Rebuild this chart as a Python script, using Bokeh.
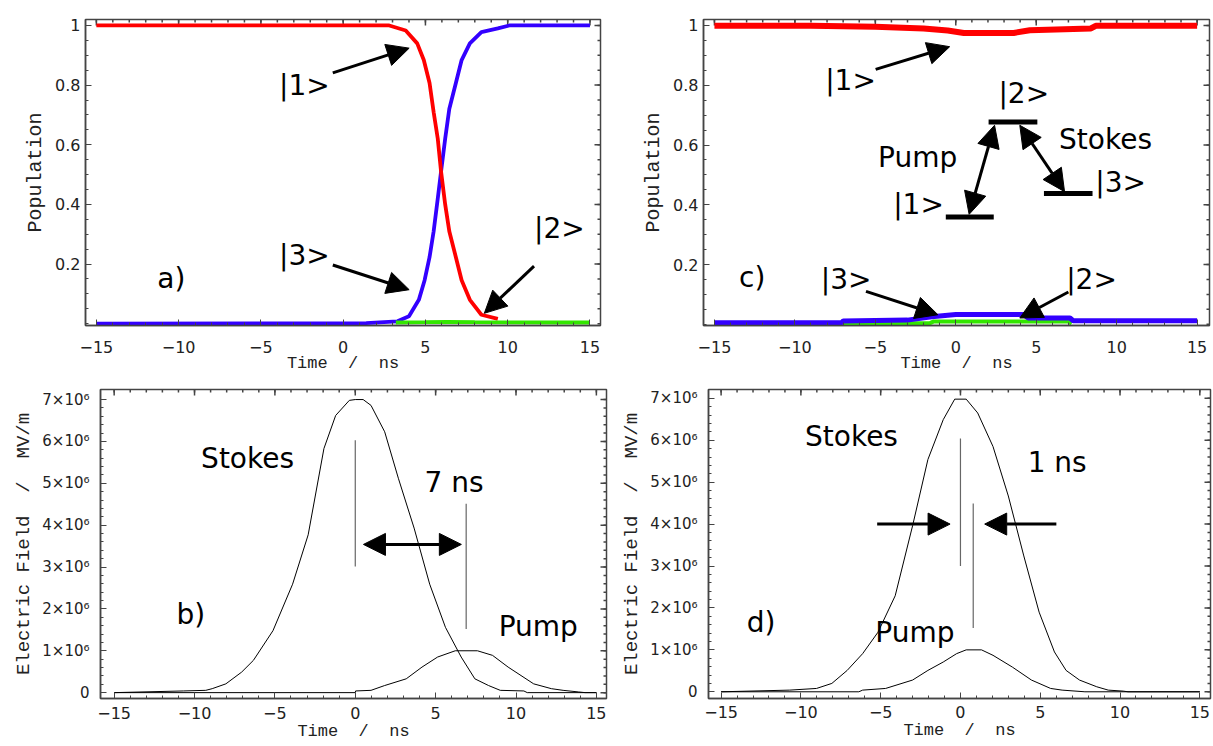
import math
from bokeh.plotting import figure
from bokeh.models import FixedTicker, Range1d, Arrow, NormalHead, ColumnDataSource
from bokeh.layouts import column, row
from bokeh.embed import file_html
from bokeh.resources import INLINE
from bokeh.core.properties import value

# ---------------- data ----------------
# panel a) populations, 7 ns delay
t_a1 = [-15, 2.8, 3.8, 4.5, 4.9, 5.25, 5.5, 5.75, 5.95, 6.2, 6.45, 6.85, 7.2, 7.7, 8.4, 9.4]
p_a1 = [1.0, 1.0, 0.983, 0.94, 0.884, 0.807, 0.709, 0.62, 0.51, 0.40, 0.31, 0.223, 0.146, 0.08, 0.03, 0.016]
t_a3 = [-15, 1.4, 3.3, 4.0, 4.6, 4.95, 5.25, 5.5, 5.75, 5.95, 6.2, 6.45, 6.85, 7.2, 7.7, 8.4, 9.4, 10.1, 15]
p_a3 = [0.0, 0.002, 0.008, 0.025, 0.08, 0.146, 0.223, 0.31, 0.42, 0.51, 0.62, 0.72, 0.807, 0.884, 0.94, 0.978, 0.99, 1.0, 1.0]
t_a2 = [3.2, 5.0, 6.3, 8.0, 15]
p_a2 = [0.004, 0.005, 0.006, 0.005, 0.004]

# panel c) populations, 1 ns delay
t_c1 = [-15, -9, -5, -2, -0.5, 0.5, 3.6, 4.6, 8.4, 8.7, 15]
p_c1 = [0.999, 0.999, 0.996, 0.99, 0.983, 0.975, 0.975, 0.984, 0.99, 0.999, 0.999]
t_c3 = [-15, -7.1, -7.0, -3, -1.5, 0, 4.2, 4.5, 7.1, 7.3, 15]
p_c3 = [0.005, 0.005, 0.011, 0.014, 0.025, 0.033, 0.033, 0.021, 0.021, 0.012, 0.012]
t_c2 = [-7, -1.6, -1.4, 7.0, 7.2]
p_c2 = [0.003, 0.004, 0.009, 0.009, 0.002]

# panel b) fields, 7 ns delay (units of 1e6 MV/m)
t_bs = [-15, -10.7, -9.3, -8.9, -8.05, -7.07, -6.34, -5.12, -3.9, -2.93, -1.95, -1.22, -0.37, 0, 0.49, 0.98,
        1.83, 2.68, 3.66, 4.63, 5.61, 6.59, 7.44, 8.29, 9.02, 10.49, 10.7, 15]
e_bs = [0, 0.04, 0.055, 0.095, 0.21, 0.49, 0.77, 1.48, 2.59, 3.77, 5.83, 6.62, 6.98, 7.0, 7.0, 6.86,
        6.23, 5.12, 3.93, 2.59, 1.56, 0.85, 0.33, 0.17, 0.055, 0.04, 0, 0]
t_bp = [-15, 0, 0.02, 0.98, 1.83, 3.17, 4.15, 5.12, 6.22, 7.6, 8.54, 9.51, 11.1, 12.2, 12.93, 13.9, 14.3, 15]
e_bp = [0, 0, 0.04, 0.055, 0.17, 0.33, 0.61, 0.85, 1.0, 1.0, 0.89, 0.61, 0.21, 0.095, 0.055, 0.016, 0, 0]

# panel d) fields, 1 ns delay
t_ds = [-15, -10.7, -9.02, -8.06, -7.1, -6.13, -5.17, -4.09, -3.0, -2.04, -1.08, -0.36, 0.36, 1.08, 2.04,
        3.0, 3.97, 4.93, 5.89, 6.62, 7.46, 8.54, 9.26, 10.2, 10.5, 15]
e_ds = [0, 0.04, 0.08, 0.2, 0.51, 0.91, 1.42, 2.29, 3.96, 5.54, 6.49, 6.98, 6.98, 6.65, 5.85,
        4.67, 3.24, 1.9, 0.95, 0.51, 0.28, 0.12, 0.04, 0.016, 0, 0]
t_dp = [-15, -6.37, -6.13, -4.69, -3.0, -2.04, -1.08, -0.24, 0.36, 1.32, 2.04, 3.25, 4.45, 5.65, 6.37, 7.8, 15]
e_dp = [0, 0, 0.04, 0.08, 0.28, 0.51, 0.71, 0.91, 1.0, 1.0, 0.87, 0.59, 0.28, 0.08, 0.04, 0, 0]

x_ticks = [-15, -10, -5, 0, 5, 10, 15]
x_tick_labels = ["\u221215", "\u221210", "\u22125", "0", "5", "10", "15"]
pop_ticks = [0.2, 0.4, 0.6, 0.8, 1.0]
pop_tick_labels = ["0.2", "0.4", "0.6", "0.8", "1"]
field_ticks = [0, 1e6, 2e6, 3e6, 4e6, 5e6, 6e6, 7e6]
field_tick_labels = ["0", "1\u00d710\u2076", "2\u00d710\u2076", "3\u00d710\u2076", "4\u00d710\u2076",
                     "5\u00d710\u2076", "6\u00d710\u2076", "7\u00d710\u2076"]
x_minor = list(range(-15, 16))
pop_minor = [round(0.05 * i, 2) for i in range(0, 21)]
field_minor = [0.2e6 * i for i in range(0, 36)]

X_LABEL = "Time\u00a0\u00a0/\u00a0\u00a0ns"
POP_LABEL = "Population"
FIELD_LABEL = "Electric\u00a0Field\u00a0\u00a0/\u00a0\u00a0MV/m"

RED = "#ff0000"
BLUE = "#3300ff"
GREEN = "#33e600"
FRAME = "#444444"
SANS = "DejaVu Sans"
MONO = "Liberation Mono"


def make_fig(bl, fw, br, bt, fh, bb, xr, yr):
    p = figure(width=bl + fw + br, height=bt + fh + bb, x_range=Range1d(*xr), y_range=Range1d(*yr),
               output_backend="svg", toolbar_location=None, title=None,
               min_border_left=bl, min_border_right=br, min_border_top=bt, min_border_bottom=bb)
    p.xgrid.visible = False
    p.ygrid.visible = False
    p.outline_line_color = FRAME
    p.outline_line_width = 1.5
    p.background_fill_color = "white"
    p.border_fill_color = "white"
    return p


def style_axes(p, xr, yr, yticks, ylabels, yminor, ylabel, ytick_size, ylab_size, xstand, xlstand, ystand, ylstand):
    p.xaxis.ticker = FixedTicker(ticks=x_ticks, minor_ticks=x_minor)
    p.yaxis.ticker = FixedTicker(ticks=yticks, minor_ticks=yminor)
    p.xaxis.major_label_overrides = dict(zip(x_ticks, x_tick_labels))
    p.yaxis.major_label_overrides = dict(zip(yticks, ylabels))
    p.xaxis.axis_label = X_LABEL
    p.yaxis.axis_label = ylabel
    for ax in (p.xaxis[0], p.yaxis[0]):
        ax.major_tick_in = 6
        ax.major_tick_out = 0
        ax.minor_tick_in = 3
        ax.minor_tick_out = 0
        ax.axis_line_color = FRAME
        ax.axis_line_width = 1.5
        ax.major_tick_line_color = FRAME
        ax.minor_tick_line_color = FRAME
        ax.major_label_text_font = SANS
        ax.major_label_text_color = "#222222"
        ax.axis_label_text_font = MONO
        ax.axis_label_text_font_style = "normal"
        ax.axis_label_text_color = "#222222"
    p.xaxis.major_label_text_font_size = "16px"
    p.yaxis.major_label_text_font_size = ytick_size
    p.xaxis.axis_label_text_font_size = "17px"
    p.yaxis.axis_label_text_font_size = ylab_size
    p.xaxis.major_label_standoff = xstand
    p.xaxis.axis_label_standoff = xlstand
    p.yaxis.major_label_standoff = ystand
    p.yaxis.axis_label_standoff = ylstand
    # inward ticks on the top and right edges of the frame (outer half is clipped by the frame)
    top, right = yr[1], xr[1]
    tick_style = dict(marker="dash", line_color=FRAME, line_width=1.5)
    p.scatter(x=x_ticks, y=[top] * len(x_ticks), size=12, angle=math.pi / 2, **tick_style)
    p.scatter(x=x_minor, y=[top] * len(x_minor), size=6, angle=math.pi / 2, **tick_style)
    p.scatter(x=[right] * len(yticks), y=yticks, size=12, **tick_style)
    p.scatter(x=[right] * len(yminor), y=yminor, size=6, **tick_style)


def add_text(p, xs, ys, texts, size="28px"):
    src = ColumnDataSource(dict(x=xs, y=ys, text=texts))
    p.text(x="x", y="y", text="text", source=src, text_font=value(SANS), text_font_size=size,
           text_align="left", text_baseline="middle", text_color="black")


def add_arrow(p, x0, y0, x1, y1, both=False, size=22, lw=3):
    end = NormalHead(size=size, fill_color="black", line_color="black", line_width=1)
    start = NormalHead(size=size, fill_color="black", line_color="black", line_width=1) if both else None
    p.add_layout(Arrow(start=start, end=end, x_start=x0, y_start=y0, x_end=x1, y_end=y1,
                       line_width=lw, line_color="black"))


# ---------------- panel a ----------------
xr_a, yr_a = (-15.66, 15.64), (-0.006, 1.02)
pa = make_fig(85, 515, 8, 19, 308, 51, xr_a, yr_a)
style_axes(pa, xr_a, yr_a, pop_ticks, pop_tick_labels, pop_minor, POP_LABEL, "16px", "20px", 15, -2, 5, 5)
pa.line(t_a3, p_a3, line_color=BLUE, line_width=3.8)
pa.line(t_a1, p_a1, line_color=RED, line_width=3.8)
pa.line(t_a2, p_a2, line_color=GREEN, line_width=3.8)
add_text(pa, [-3.9, -3.9, 11.6, -11.3], [0.80, 0.23, 0.32, 0.15], ["|1>", "|3>", "|2>", "a)"])
add_arrow(pa, -0.63, 0.841, 4.01, 0.924)
add_arrow(pa, -0.63, 0.197, 4.01, 0.114)
add_arrow(pa, 11.6, 0.193, 8.58, 0.035)

# ---------------- panel c ----------------
xr_c, yr_c = (-15.68, 15.77), (-0.004, 1.02)
pc = make_fig(95, 506, 3, 13, 312, 53, xr_c, yr_c)
style_axes(pc, xr_c, yr_c, pop_ticks, pop_tick_labels, pop_minor, POP_LABEL, "16px", "20px", 15, -2, 5, 5)
pc.line(t_c1, p_c1, line_color=RED, line_width=6)
pc.line(t_c2, p_c2, line_color=GREEN, line_width=4)
pc.line(t_c3, p_c3, line_color=BLUE, line_width=5)
add_text(pc, [-8.12, 2.65, -3.89, 8.67, -4.83, 6.42, -13.47, -8.39, 6.86],
         [0.816, 0.771, 0.40, 0.476, 0.558, 0.62, 0.155, 0.151, 0.151],
         ["|1>", "|2>", "|1>", "|3>", "Pump", "Stokes", "c)", "|3>", "|2>"])
# level diagram bars
lev_x0 = [2.04, -0.62, 5.48]
lev_x1 = [5.07, 2.36, 8.5]
lev_y = [0.677, 0.359, 0.438]
pc.segment(x0=lev_x0, y0=lev_y, x1=lev_x1, y1=lev_y, line_color="black", line_width=5)
add_arrow(pc, -4.98, 0.853, -0.38, 0.929)
add_arrow(pc, 0.83, 0.368, 2.41, 0.666, both=True)
add_arrow(pc, 3.98, 0.666, 6.76, 0.444, both=True)
add_arrow(pc, -5.58, 0.110, -1.11, 0.032)
add_arrow(pc, 7.0, 0.108, 3.98, 0.021)

# ---------------- panel b ----------------
sc = 1e6
xr_b, yr_b = (-15.85, 15.63), (-0.14e6, 7.24e6)
pb = make_fig(100, 506, 2, 8, 312, 46, xr_b, yr_b)
style_axes(pb, xr_b, yr_b, field_ticks, field_tick_labels, field_minor, FIELD_LABEL, "15px", "19px", 8, 0, 11, 4)
pb.line(t_bs, [v * sc for v in e_bs], line_color="black", line_width=1)
pb.line(t_bp, [v * sc for v in e_bp], line_color="black", line_width=1)
pb.segment(x0=[0, 6.9], y0=[6.03e6, 4.51e6], x1=[0, 6.9], y1=[3.01e6, 1.52e6], line_color="#666666", line_width=1.2)
add_arrow(pb, 0.51, 3.54e6, 6.6, 3.54e6, both=True)
add_text(pb, [-9.59, 4.31, -11.12, 8.92], [5.6e6, 5.03e6, 1.87e6, 1.57e6], ["Stokes", "7 ns", "b)", "Pump"])

# ---------------- panel d ----------------
xr_d, yr_d = (-15.79, 15.67), (-0.16e6, 7.21e6)
pd_ = make_fig(100, 502, 2, 11, 310, 45, xr_d, yr_d)
style_axes(pd_, xr_d, yr_d, field_ticks, field_tick_labels, field_minor, FIELD_LABEL, "15px", "19px", 7, 0, 11, 4)
pd_.line(t_ds, [v * sc for v in e_ds], line_color="black", line_width=1)
pd_.line(t_dp, [v * sc for v in e_dp], line_color="black", line_width=1)
pd_.segment(x0=[0, 0.8], y0=[6.04e6, 4.49e6], x1=[0, 0.8], y1=[3.0e6, 1.52e6], line_color="#666666", line_width=1.2)
add_arrow(pd_, -5.22, 4.0e6, -0.65, 4.0e6)
add_arrow(pd_, 6.01, 4.0e6, 1.52, 4.0e6)
add_text(pd_, [-9.74, 4.21, -13.4, -5.34], [6.08e6, 5.48e6, 1.66e6, 1.42e6], ["Stokes", "1 ns", "d)", "Pump"])

layout = column(row(pa, pc), row(pb, pd_))
open("out.html", "w").write(file_html(layout, INLINE))
